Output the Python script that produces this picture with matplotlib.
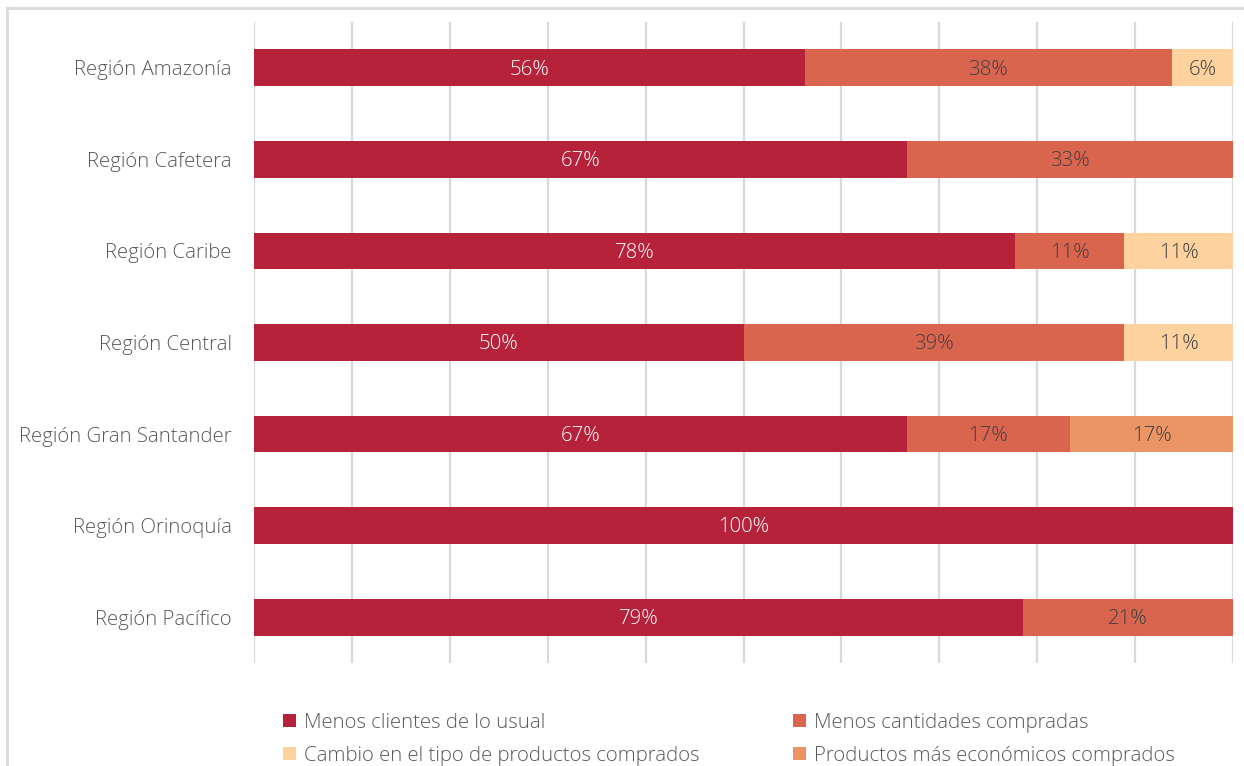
import numpy as np
import matplotlib.pyplot as plt
from matplotlib.lines import Line2D

plt.rcParams['font.family'] = ['Open Sans', 'DejaVu Sans']
plt.rcParams['font.weight'] = 'light'

regions = ['Región Amazonía', 'Región Cafetera', 'Región Caribe', 'Región Central',
           'Región Gran Santander', 'Región Orinoquía', 'Región Pacífico']
series = ['Menos clientes de lo usual', 'Menos cantidades compradas',
          'Cambio en el tipo de productos comprados', 'Productos más económicos comprados']
menos_clientes = [56.25, 66.67, 77.78, 50.0, 66.67, 100.0, 78.57]
menos_cantidades = [37.5, 33.33, 11.11, 38.89, 16.67, 0, 21.43]
cambio_tipo = [6.25, 0, 11.11, 11.11, 0, 0, 0]
mas_economicos = [0, 0, 0, 0, 16.67, 0, 0]

colors = ['#B5223A', '#D9654F', '#FDD29E', '#EC9564']
label_colors = ['white', '#404040', '#404040', '#404040']
fs = 14.7

fig = plt.figure(figsize=(12.44, 7.66), dpi=100)
ax = fig.add_axes([254 / 1244, 1 - 663 / 766, 979 / 1244, 641 / 766])

y = np.arange(len(regions))
left = np.zeros(len(regions))
bars = []
for vals, name, c, tc in zip([menos_clientes, menos_cantidades, cambio_tipo, mas_economicos],
                             series, colors, label_colors):
    vals = np.array(vals)
    b = ax.barh(y, vals, left=left, height=0.4, color=c, label=name, zorder=3)
    bars.append(b)
    for yi, l, v in zip(y, left, vals):
        if v > 0:
            ax.text(l + v / 2, yi + 0.02, f'{v:.0f}%', ha='center', va='center',
                    color=tc, fontsize=fs, zorder=4)
    left += vals

ax.set_xlim(0, 100)
ax.set_ylim(6.5, -0.5)
ax.set_xticks(np.arange(0, 101, 10))
ax.set_xticklabels([])
ax.tick_params(axis='x', length=0)
ax.tick_params(axis='y', length=0, pad=16, labelsize=fs, labelcolor='#595959')
ax.set_yticks(y)
ax.set_yticklabels(regions)
ax.grid(axis='x', color='#d9d9d9', linewidth=1.6, zorder=0)
for s in ax.spines.values():
    s.set_visible(False)

# legend: row 1 = first two series, row 2 = last two
handles = [bars[0], bars[2], bars[1], bars[3]]
labels = [series[0], series[2], series[1], series[3]]
fig.legend(handles, labels, ncol=2, loc='center', bbox_to_anchor=(0.586, 0.035),
           frameon=False, fontsize=fs, labelcolor='#595959', handlelength=0.6,
           handleheight=0.6, handletextpad=0.4, columnspacing=4.6, labelspacing=0.62,
           borderpad=0)

# outer frame
fig.add_artist(Line2D([7 / 1244, 7 / 1244], [0, 1 - 8 / 766], color='#d9d9d9', lw=2))
fig.add_artist(Line2D([7 / 1244, 1], [1 - 8 / 766, 1 - 8 / 766], color='#d9d9d9', lw=2))

fig.savefig('out.png', dpi=100)
